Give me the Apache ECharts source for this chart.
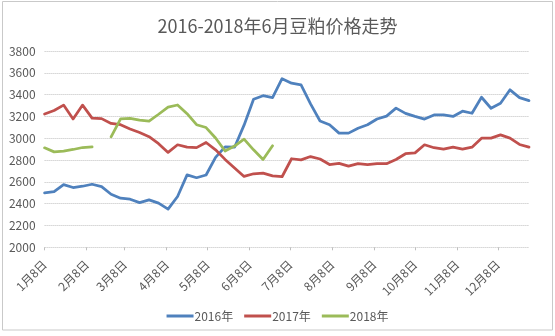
<!DOCTYPE html>
<html>
<head>
<meta charset="utf-8">
<script src="https://cdn.jsdelivr.net/npm/echarts@6/dist/echarts.min.js"></script>
<style>
html,body{margin:0;padding:0;background:#fff;}
#chart{width:555px;height:336px;}
</style>
</head>
<body>
<div id="chart"></div>
<script>
// Weekly dates (shared dummy year for aligning the three years on one axis)
var weeks = [
  '2017-01-08','2017-01-15','2017-01-22','2017-01-29',
  '2017-02-05','2017-02-12','2017-02-19','2017-02-26',
  '2017-03-05','2017-03-12','2017-03-19','2017-03-26',
  '2017-04-02','2017-04-09','2017-04-16','2017-04-23','2017-04-30',
  '2017-05-07','2017-05-14','2017-05-21','2017-05-28',
  '2017-06-04','2017-06-11','2017-06-18','2017-06-25',
  '2017-07-02','2017-07-09','2017-07-16','2017-07-23','2017-07-30',
  '2017-08-06','2017-08-13','2017-08-20','2017-08-27',
  '2017-09-03','2017-09-10','2017-09-17','2017-09-24',
  '2017-10-01','2017-10-08','2017-10-15','2017-10-22','2017-10-29',
  '2017-11-05','2017-11-12','2017-11-19','2017-11-26',
  '2017-12-03','2017-12-10','2017-12-17','2017-12-24','2017-12-31'
];

var y2016 = [2500,2510,2575,2548,2560,2578,2556,2486,2450,2441,2410,2435,2405,2350,
  2466,2664,2638,2663,2825,2921,2918,3120,3358,3390,3372,3546,3505,3490,3315,3158,
  3124,3047,3047,3092,3124,3176,3203,3276,3228,3200,3176,3214,3214,3200,3248,3229,
  3376,3275,3321,3444,3372,3345];

var y2017 = [3222,3254,3304,3177,3304,3184,3180,3136,3124,3084,3052,3014,2950,2870,
  2940,2918,2914,2961,2894,2806,2727,2650,2674,2680,2655,2647,2812,2802,2832,2810,
  2759,2770,2744,2767,2759,2767,2767,2805,2858,2866,2940,2913,2901,2918,2901,2918,
  3000,3001,3031,3001,2943,2918];

var y2018 = [2912,2875,2882,2897,2915,2921,null,3013,3178,3182,3166,3158,3220,3285,
  3305,3225,3124,3098,3002,2883,2928,2992,2894,2805,2931,
  null,null,null,null,null,null,null,null,null,null,null,null,null,null,null,null,
  null,null,null,null,null,null,null,null,null,null,null];

var tickDates = ['2017-01-08','2017-02-08','2017-03-08','2017-04-08','2017-05-08','2017-06-08',
  '2017-07-08','2017-08-08','2017-09-08','2017-10-08','2017-11-08','2017-12-08'];
var tickLabels = ['1月8日','2月8日','3月8日','4月8日','5月8日','6月8日',
  '7月8日','8月8日','9月8日','10月8日','11月8日','12月8日'];

var seriesNames = ['2016年','2017年','2018年'];
var colors = ['#4F81BD','#C0504D','#9BBB59'];
var yTicks = [2000,2200,2400,2600,2800,3000,3200,3400,3600,3800];

// convert a date string to its day offset from the first week
function dayOf(s){ var p = s.split('-'); return Date.UTC(+p[0], +p[1]-1, +p[2]) / 86400000; }
var day0 = dayOf(weeks[0]);
var weekDay = weeks.map(function(s){ return dayOf(s) - day0; });
var tickDay = tickDates.map(function(s){ return dayOf(s) - day0; });
function pairs(arr){ return arr.map(function(v,i){ return [weekDay[i], v]; }); }

var font = '"Noto Sans CJK SC", "Noto Sans", sans-serif';
var chart = echarts.init(document.getElementById('chart'), null, {renderer:'canvas'});
chart.setOption({
  animation:false,
  color: colors,
  title:{
    text:'2016-2018年6月豆粕价格走势',
    left:'center', top:12,
    textStyle:{fontFamily:font, fontSize:18, fontWeight:'normal', color:'#595959'}
  },
  graphic:[{
    type:'rect', silent:true,
    shape:{x:2.5, y:1.5, width:550, height:328.5},
    style:{fill:'none', stroke:'#c9c9c9', lineWidth:1}
  }],
  legend:{
    data: seriesNames,
    bottom: 9,
    left: 'center',
    icon: 'rect',
    itemWidth: 27, itemHeight: 3,
    itemGap: 11,
    textStyle:{fontFamily:font, fontSize:12, color:'#595959', padding:[0,0,0,-4]}
  },
  grid:{left:44.6, right:26, top:51, bottom:88.7},
  xAxis:{
    type:'value',
    min: weekDay[0], max: weekDay[weekDay.length-1],
    axisLine:{show:false},
    axisTick:{show:true, length:3, customValues: tickDay, lineStyle:{color:'#bfbfbf'}},
    splitLine:{show:false},
    axisLabel:{
      customValues: tickDay,
      rotate:45, margin:15,
      fontFamily:font, fontSize:12, color:'#595959',
      formatter:function(v){
        var i = tickDay.indexOf(v);
        return i >= 0 ? tickLabels[i] : '';
      }
    }
  },
  yAxis:{
    type:'value', min:yTicks[0], max:yTicks[yTicks.length-1], interval:200,
    axisLine:{show:false}, axisTick:{show:false},
    axisLabel:{fontFamily:font, fontSize:12, color:'#595959', margin:9,
      formatter:function(v){ return String(v); }},
    splitLine:{show:true, lineStyle:{color:'#bfbfbf', type:[1,1], width:1}}
  },
  series:[
    {name:seriesNames[0], type:'line', data:pairs(y2016), showSymbol:false, lineStyle:{width:2.75, cap:'round', join:'round'}},
    {name:seriesNames[1], type:'line', data:pairs(y2017), showSymbol:false, lineStyle:{width:2.75, cap:'round', join:'round'}},
    {name:seriesNames[2], type:'line', data:pairs(y2018), showSymbol:false, connectNulls:false, lineStyle:{width:2.75, cap:'round', join:'round'}}
  ]
});
</script>
</body>
</html>
